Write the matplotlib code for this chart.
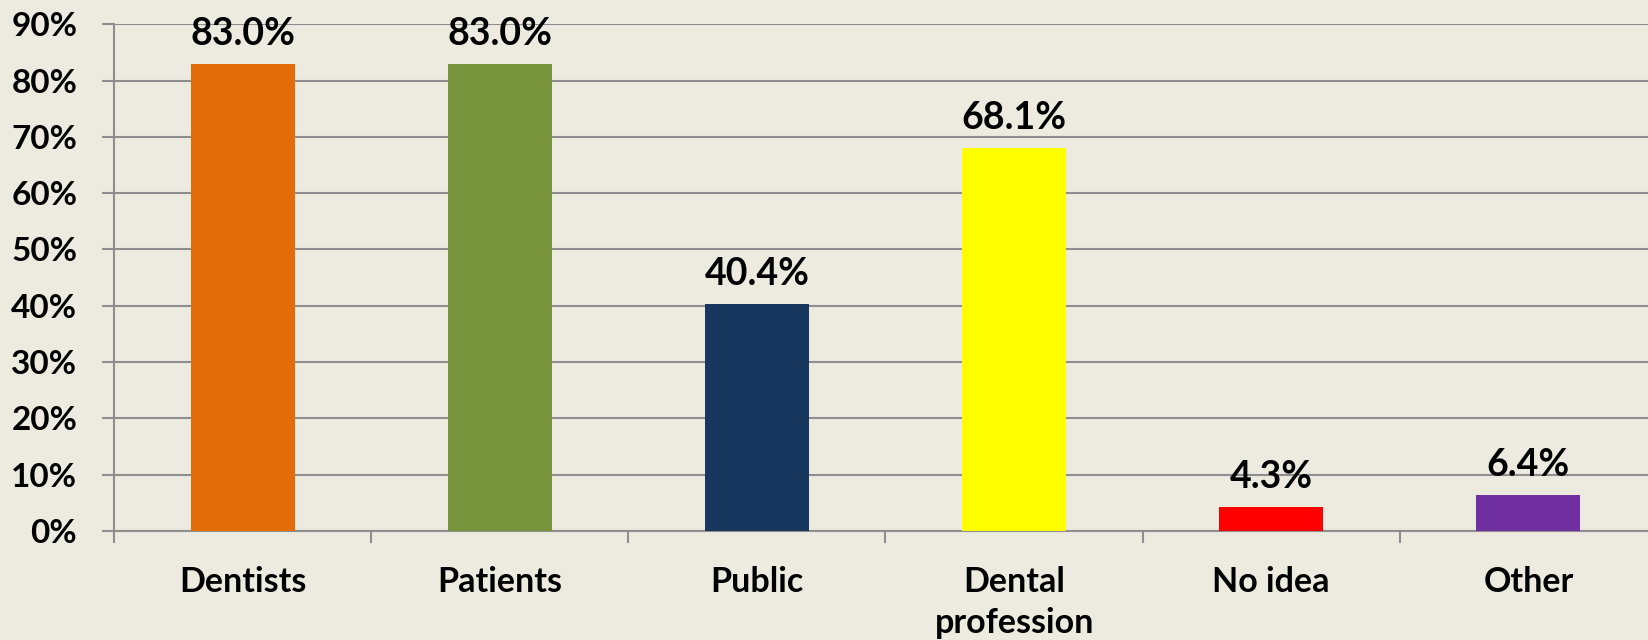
import numpy as np
import matplotlib.pyplot as plt
from matplotlib.ticker import FixedLocator, PercentFormatter

# Chart data
categories = ["Dentists", "Patients", "Public", "Dental\nprofession", "No idea", "Other"]
shares = [83.0, 83.0, 40.4, 68.1, 4.3, 6.4]
bar_colors = ["#E36C09", "#77933C", "#17375E", "#FFFF00", "#FF0000", "#7030A0"]
y_ticks = [0, 10, 20, 30, 40, 50, 60, 70, 80, 90]

bg = "#EDEBE0"
grid_col = "#8E8E8E"
plt.rcParams['font.family'] = ['Lato', 'DejaVu Sans']
plt.rcParams['font.weight'] = 'bold'

fig = plt.figure(figsize=(16.49, 6.40), dpi=100, facecolor=bg)
ax = fig.add_axes([114 / 1649, 109 / 640, (1657 - 114) / 1649, (531 - 24.3) / 640])
ax.set_facecolor(bg)

x = np.arange(len(categories))
bars = ax.bar(x, shares, width=0.405, color=bar_colors, zorder=3)

for xi, v in zip(x, shares):
    ax.annotate(f"{v:.1f}%", (xi, v), xytext=(0, 9), textcoords="offset points",
                ha="center", va="bottom", fontsize=27, fontweight="bold")

ax.set_xlim(-0.5, len(categories) - 0.5)
ax.set_ylim(0, 90)
ax.set_yticks(y_ticks)
ax.yaxis.set_major_formatter(PercentFormatter(decimals=0))
ax.grid(axis="y", color=grid_col, linewidth=1.5, zorder=0)

ax.set_xticks(x)
ax.set_xticklabels(categories, fontsize=24.5, fontweight="bold", va="top", linespacing=1.35)
ax.xaxis.set_minor_locator(FixedLocator(np.arange(-0.5, len(categories), 1.0)))
ax.tick_params(axis="x", which="major", length=0, pad=25)
ax.tick_params(axis="x", which="minor", length=8.5, width=1.5, color=grid_col)
ax.tick_params(axis="y", length=8.5, width=1.5, color=grid_col, pad=18, labelsize=24)

for s in ["top", "right"]:
    ax.spines[s].set_visible(False)
for s in ["left", "bottom"]:
    ax.spines[s].set_color(grid_col)
    ax.spines[s].set_linewidth(1.5)

fig.savefig("out.png", dpi=100, facecolor=bg)
